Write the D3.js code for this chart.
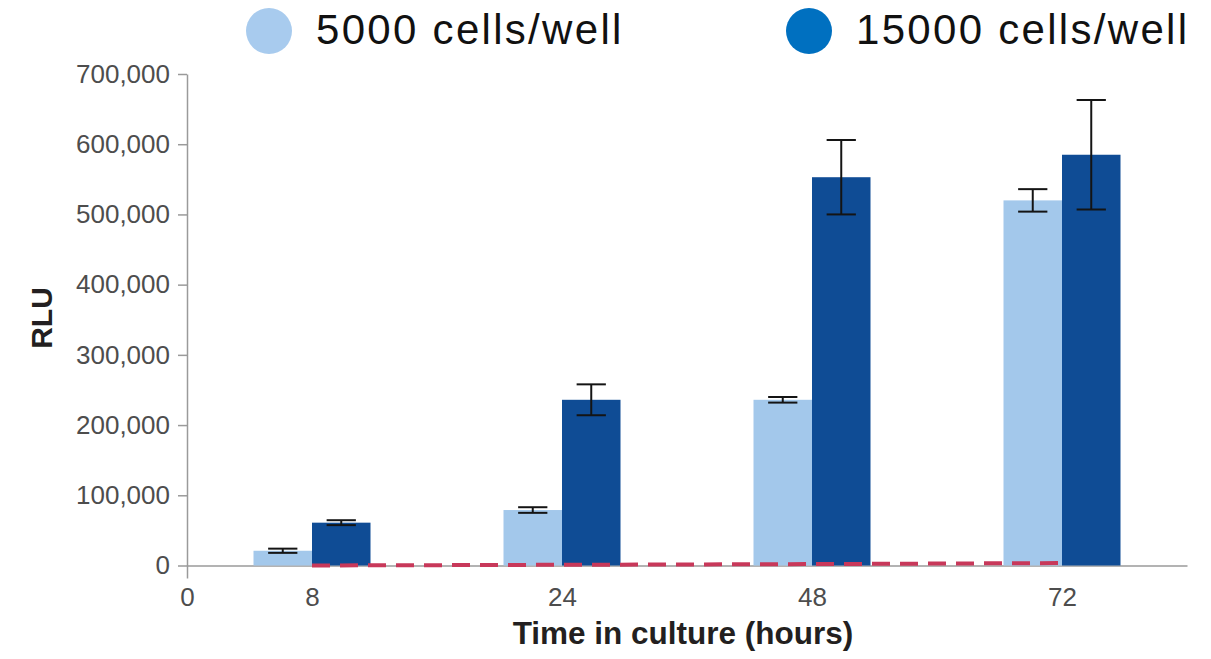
<!DOCTYPE html>
<html>
<head>
  <title>Cells per well RLU</title>
  <style>
    body { margin: 0; background: #fff; }
    svg text { font-family: 'Liberation Sans', Arial, sans-serif; }
  </style>
  <script src="https://cdn.jsdelivr.net/npm/d3@7/dist/d3.min.js"></script>
</head>
<body>
<svg id="chart" width="1211" height="659"></svg>

<script>
// data
var times = ['8', '24', '48', '72'];
var xLabels = ['0', '8', '24', '48', '72'];
var seriesNames = ['5000 cells/well', '15000 cells/well'];
var low = [21000, 79000, 236000, 520000];      // 5000 cells/well
var lowErr = [3000, 4000, 4000, 16000];
var high = [61000, 236000, 553000, 585000];    // 15000 cells/well
var highErr = [3500, 22000, 53000, 78000];
var background = [0, 1000, 2000, 3500];        // dashed red line
var yTicks = [0, 100000, 200000, 300000, 400000, 500000, 600000, 700000];

var barColors = ['#a3c8eb', '#0f4c95'];
var legendColors = ['#a8cbee', '#0070c0'];

var svg = d3.select('#chart'),
  x0 = 187, x1 = 1187, yBottom = 565.5, yTop = 74;

var x = d3.scaleBand()
  .domain(times)
  .range([x0, x1])
  .paddingInner(0.532)
  .paddingOuter(0.266);

var xs = d3.scaleBand()
  .domain([0, 1])
  .range([0, x.bandwidth()]);

// linear helper so the "0" label can sit at the axis origin
var xi = d3.scaleLinear().domain([0, times.length]).range([x0, x1]);

var y = d3.scaleLinear()
  .domain([0, 700000])
  .range([yBottom, yTop]);

// y axis
var yAxis = svg.append('g')
  .attr('transform', 'translate(' + x0 + ',0)')
  .call(d3.axisLeft(y).tickValues(yTicks).tickFormat(d3.format(',')).tickSize(9).tickSizeOuter(0).tickPadding(8));
yAxis.select('.domain').attr('stroke', '#9a9a9a').attr('stroke-width', 1.5);
yAxis.selectAll('.tick line').attr('stroke', '#9a9a9a').attr('stroke-width', 1.5);
yAxis.selectAll('.tick text')
  .attr('fill', '#4d4d4d')
  .attr('font-size', 26)
  .attr('font-family', "'Liberation Sans', Arial, sans-serif");

// x axis
var xAxis = svg.append('g')
  .attr('transform', 'translate(0,' + yBottom + ')')
  .call(d3.axisBottom(xi)
    .tickValues([0, 0.5, 1.5, 2.5, 3.5])
    .tickFormat(function(d, i) { return xLabels[i]; })
    .tickSize(0).tickSizeOuter(0).tickPadding(22));
xAxis.select('.domain').attr('stroke', '#9a9a9a').attr('stroke-width', 1.5);
xAxis.selectAll('.tick line')
  .attr('stroke', '#9a9a9a').attr('stroke-width', 1.5)
  .attr('y2', function(d, i) { return i === 0 ? 13 : 0; });
xAxis.selectAll('.tick text')
  .attr('fill', '#4d4d4d')
  .attr('font-size', 26)
  .attr('font-family', "'Liberation Sans', Arial, sans-serif");

// bars
var rows = times.map(function(t, i) {
  return [
    { t: t, k: 0, v: low[i], e: lowErr[i] },
    { t: t, k: 1, v: high[i], e: highErr[i] }
  ];
});

var groups = svg.append('g').selectAll('g')
  .data(rows)
  .join('g')
  .attr('transform', function(d) { return 'translate(' + x(d[0].t) + ',0)'; });

groups.selectAll('rect')
  .data(function(d) { return d; })
  .join('rect')
  .attr('x', function(d) { return xs(d.k); })
  .attr('width', xs.bandwidth())
  .attr('y', function(d) { return y(d.v); })
  .attr('height', function(d) { return y(0) - y(d.v); })
  .attr('fill', function(d) { return barColors[d.k]; });

// error bars
var capW = xs.bandwidth() / 2;
var eb = groups.selectAll('g.err')
  .data(function(d) { return d; })
  .join('g')
  .attr('class', 'err')
  .attr('stroke', '#141414')
  .attr('stroke-width', 2);

eb.append('line')
  .attr('x1', function(d) { return xs(d.k) + xs.bandwidth() / 2; })
  .attr('x2', function(d) { return xs(d.k) + xs.bandwidth() / 2; })
  .attr('y1', function(d) { return y(d.v + d.e); })
  .attr('y2', function(d) { return y(d.v - d.e); });
[1, -1].forEach(function(s) {
  eb.append('line')
    .attr('x1', function(d) { return xs(d.k) + xs.bandwidth() / 2 - capW / 2; })
    .attr('x2', function(d) { return xs(d.k) + xs.bandwidth() / 2 + capW / 2; })
    .attr('y1', function(d) { return y(d.v + s * d.e); })
    .attr('y2', function(d) { return y(d.v + s * d.e); });
});

// dashed background line
var line = d3.line()
  .x(function(d, i) { return x(times[i]) + x.bandwidth() / 2; })
  .y(function(d) { return y(d); });

svg.append('path')
  .datum(background)
  .attr('fill', 'none')
  .attr('stroke', '#c8385a')
  .attr('stroke-width', 4)
  .attr('stroke-dasharray', '18,10')
  .attr('d', line);

// axis titles
svg.append('text')
  .attr('transform', 'translate(52,318) rotate(-90)')
  .attr('text-anchor', 'middle')
  .attr('font-size', 30)
  .attr('font-weight', 'bold')
  .attr('fill', '#231f20')
  .text('RLU');

svg.append('text')
  .attr('x', 683)
  .attr('y', 643.5)
  .attr('text-anchor', 'middle')
  .attr('font-size', 31.5)
  .attr('font-weight', 'bold')
  .attr('fill', '#231f20')
  .text('Time in culture (hours)');

// legend
var legendX = [269, 809];
var legend = svg.append('g').selectAll('g')
  .data(seriesNames)
  .join('g')
  .attr('transform', function(d, i) { return 'translate(' + legendX[i] + ',31)'; });

legend.append('circle')
  .attr('r', 23)
  .attr('fill', function(d, i) { return legendColors[i]; });

legend.append('text')
  .attr('x', 47)
  .attr('y', 13)
  .attr('font-family', "'Noto Sans', sans-serif")
  .attr('font-size', 42)
  .attr('letter-spacing', 2.3)
  .attr('fill', '#111')
  .text(function(d) { return d; });
</script>
</body>
</html>
